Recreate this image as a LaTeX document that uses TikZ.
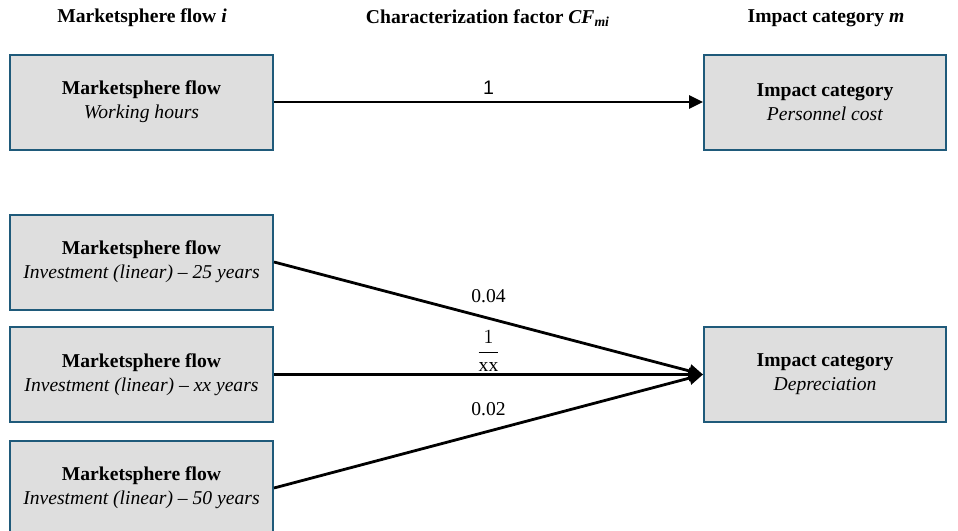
\documentclass[tikz,border=0pt]{standalone}
\usepackage{fontspec}
\setmainfont{Liberation Serif}
\newfontfamily\labelsans{Liberation Sans}
\usetikzlibrary{positioning,arrows.meta}

\begin{document}
\begin{tikzpicture}[x=.5pt,y=-.5pt,font=\fontsize{9.8}{12}\selectfont,align=center,
 flowbox/.style={draw=boxblue,line width=1pt,fill=boxgray,minimum width=131.5pt,minimum height=47.5pt,inner sep=2pt},
 catbox/.style={flowbox,minimum width=121pt},
 head/.style={font=\fontsize{9.8}{12}\selectfont\bfseries},
 cfarrow/.style={-{Triangle[length=7pt,width=6.5pt]},line width=1.4pt,draw=black},
 cflabel/.style={font=\fontsize{9.8}{12}\selectfont,inner sep=1pt}]
\definecolor{boxblue}{HTML}{1F5A7A}
\definecolor{boxgray}{HTML}{DEDEDE}
\useasboundingbox (0,0) rectangle (958,530);
% column headings
\node[head] (hflow) at (142,18) {Marketsphere flow \textit{i}};
\node[head] (hcf) at (488,18) {Characterization factor \textit{CF\textsubscript{mi}}};
\node[head] (hcat) at (826,18) {Impact category \textit{m}};
% marketsphere flows
\node[flowbox] (work) at (141.5,102) {\textbf{Marketsphere flow}\\\textit{Working hours}};
\node[flowbox] (inv25) at (141.5,262) {\textbf{Marketsphere flow}\\\textit{Investment (linear) -- 25 years}};
\node[flowbox] (invxx) at (141.5,374.5) {\textbf{Marketsphere flow}\\\textit{Investment (linear) -- xx years}};
\node[flowbox] (inv50) at (141.5,488) {\textbf{Marketsphere flow}\\\textit{Investment (linear) -- 50 years}};
% impact categories
\node[catbox] (pers) at (825,102) {\textbf{Impact category}\\\textit{Personnel cost}};
\node[catbox] (depr) at (825,374.5) {\textbf{Impact category}\\\textit{Depreciation}};
% characterization factors
\draw[cfarrow] (work)--node[cflabel,above=2pt,font=\fontsize{9.8}{12}\selectfont\labelsans] {1} (pers);
\draw[cfarrow] (inv25.east)--node[cflabel,above=6pt] {0.04} (depr.west);
\draw[cfarrow] (invxx)--node[cflabel,above=0pt] {$\displaystyle\frac{1}{\textrm{xx}}$} (depr);
\draw[cfarrow] (inv50.east)--node[cflabel,above=6pt] {0.02} (depr.west);
\end{tikzpicture}
\end{document}
